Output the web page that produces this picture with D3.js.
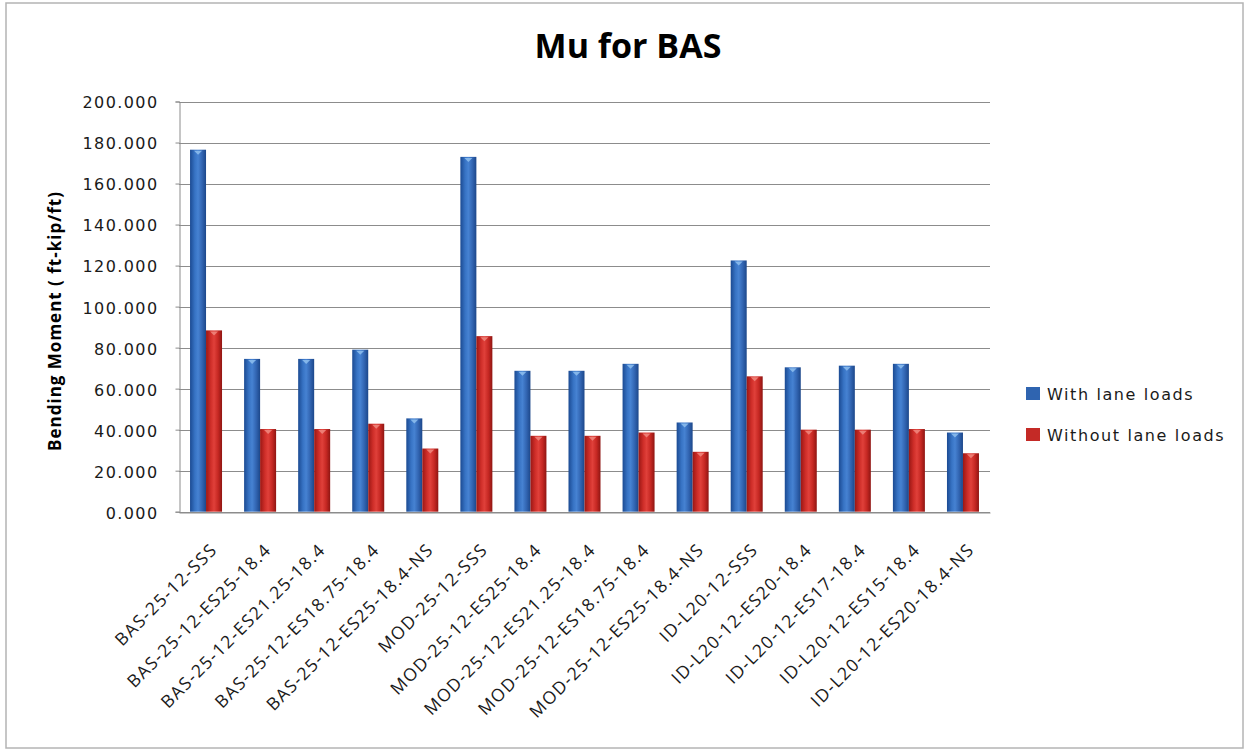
<!DOCTYPE html>
<html>
<head>
<meta charset="utf-8">
<script src="https://cdn.jsdelivr.net/npm/d3@7"></script>
<style>
  html, body { margin: 0; padding: 0; background: #ffffff; }
  svg { display: block; }
</style>
</head>
<body>
<svg id="chart" width="1250" height="754"></svg>
<script>
const categories = [
  "BAS-25-12-SSS", "BAS-25-12-ES25-18.4", "BAS-25-12-ES21.25-18.4", "BAS-25-12-ES18.75-18.4",
  "BAS-25-12-ES25-18.4-NS", "MOD-25-12-SSS", "MOD-25-12-ES25-18.4", "MOD-25-12-ES21.25-18.4",
  "MOD-25-12-ES18.75-18.4", "MOD-25-12-ES25-18.4-NS", "ID-L20-12-SSS", "ID-L20-12-ES20-18.4",
  "ID-L20-12-ES17-18.4", "ID-L20-12-ES15-18.4", "ID-L20-12-ES20-18.4-NS"
];
const seriesNames = ["With lane loads", "Without lane loads"];
const withLane    = [176.5, 74.5, 74.5, 79.0, 45.5, 173.0, 68.7, 68.7, 72.1, 43.5, 122.5, 70.4, 71.2, 72.1, 38.6];
const withoutLane = [88.4, 40.3, 40.3, 42.9, 30.8, 85.6, 37.0, 37.0, 38.6, 29.2, 66.0, 40.0, 40.0, 40.3, 28.5];
const yTicks = [0, 20, 40, 60, 80, 100, 120, 140, 160, 180, 200];
const titleText = "Mu for BAS";
const yAxisTitle = "Bending Moment ( ft-kip/ft)";

const svg = d3.select("#chart");

// outer frame
svg.append("rect").attr("x", 6).attr("y", 3).attr("width", 1237).attr("height", 745)
  .attr("fill", "#ffffff").attr("stroke", "#b4b4b4").attr("stroke-width", 1.5);

const plotLeft = 179, plotRight = 990, plotTop = 101.5, plotBottom = 511.7;

const x0 = d3.scaleBand().domain(categories).range([plotLeft, plotRight]).padding(0);
const x1 = d3.scaleBand().domain(seriesNames).range([0, x0.bandwidth()]).paddingInner(0).paddingOuter(0.69);
const y = d3.scaleLinear().domain([0, 200]).range([plotBottom, plotTop]);

// gradients
const defs = svg.append("defs");
function grad(id, stops) {
  const g = defs.append("linearGradient").attr("id", id).attr("x1", "0%").attr("x2", "100%").attr("y1", "0%").attr("y2", "0%");
  stops.forEach(s => g.append("stop").attr("offset", s[0]).attr("stop-color", s[1]));
}
grad("gBlue", [["0%", "#1b4a92"], ["30%", "#3773c4"], ["50%", "#4682d2"], ["75%", "#3265b2"], ["100%", "#1c478a"]]);
grad("gRed",  [["0%", "#9a1714"], ["30%", "#cf2e29"], ["50%", "#e0403a"], ["75%", "#c62823"], ["100%", "#8f1512"]]);
const fills = { "With lane loads": "url(#gBlue)", "Without lane loads": "url(#gRed)" };
const capFill = { "With lane loads": "#8fc0ef", "Without lane loads": "#f08a80" };
const legendFill = { "With lane loads": "#2f64b0", "Without lane loads": "#c42a26" };

// gridlines
svg.append("g").selectAll("line").data(yTicks).join("line")
  .attr("x1", plotLeft).attr("x2", plotRight)
  .attr("y1", d => Math.round(y(d)) + 0.5).attr("y2", d => Math.round(y(d)) + 0.5)
  .attr("stroke", "#8c8c8c").attr("stroke-width", 1);

// y axis
const yAxis = d3.axisLeft(y).tickValues(yTicks).tickFormat(d3.format(".3f")).tickSize(4).tickPadding(17);
const gy = svg.append("g").attr("transform", `translate(${plotLeft + 0.5},0)`).call(yAxis);
gy.select(".domain").attr("stroke", "#8c8c8c");
gy.selectAll(".tick line").attr("stroke", "#8c8c8c");
gy.selectAll(".tick text")
  .attr("font-family", "DejaVu Sans").attr("font-size", 16).attr("letter-spacing", "1.4px")
  .attr("fill", "#1a1a1a").attr("dy", "0.4em");

// x axis
const xAxis = d3.axisBottom(x0).tickSize(0).tickFormat(d => d);
const gx = svg.append("g").attr("transform", `translate(0,${Math.round(plotBottom) + 0.5})`).call(xAxis);
gx.select(".domain").attr("stroke", "#8c8c8c");
gx.selectAll(".tick text")
  .attr("font-family", "Open Sans").attr("font-size", 17.5).attr("letter-spacing", "1.4px")
  .attr("fill", "#1a1a1a")
  .attr("text-anchor", "end")
  .attr("transform", "translate(8,34) rotate(-45)")
  .attr("y", 0).attr("dy", "0.35em");

// bars
const rows = categories.map((c, i) => ({ cat: c, vals: [
  { s: seriesNames[0], v: withLane[i] }, { s: seriesNames[1], v: withoutLane[i] } ] }));
const groups = svg.append("g").selectAll("g").data(rows).join("g")
  .attr("transform", d => `translate(${x0(d.cat)},0)`);
groups.selectAll("rect").data(d => d.vals).join("rect")
  .attr("x", d => x1(d.s)).attr("width", x1.bandwidth())
  .attr("y", d => y(d.v)).attr("height", d => y(0) - y(d.v))
  .attr("fill", d => fills[d.s]);
groups.selectAll("path").data(d => d.vals).join("path")
  .attr("d", d => {
    const xa = x1(d.s) + 4, xb = x1(d.s) + x1.bandwidth() - 4, yt = y(d.v) + 1;
    return `M${xa},${yt} L${xb},${yt} L${(xa + xb) / 2},${yt + 4} Z`;
  })
  .attr("fill", d => capFill[d.s]).attr("opacity", 0.85);

// title
svg.append("text").attr("x", 628).attr("y", 58).attr("text-anchor", "middle")
  .attr("font-family", "Open Sans").attr("font-weight", "bold").attr("font-size", 34)
  .attr("fill", "#000").text(titleText);

// y axis title
svg.append("text").attr("transform", "translate(61,321) rotate(-90)").attr("text-anchor", "middle")
  .attr("font-family", "Open Sans").attr("font-weight", "bold").attr("font-size", 17)
  .attr("letter-spacing", "1px")
  .attr("fill", "#000").text(yAxisTitle);

// legend
const lg = svg.append("g").selectAll("g").data(seriesNames).join("g")
  .attr("transform", (d, i) => `translate(1026,${387 + i * 41})`);
lg.append("rect").attr("width", 14).attr("height", 13).attr("fill", d => legendFill[d]);
lg.append("text").attr("x", 21).attr("y", 12.5)
  .attr("font-family", "DejaVu Sans").attr("font-size", 16).attr("letter-spacing", "1.6px")
  .attr("fill", "#1a1a1a").text(d => d);
</script>
</body>
</html>
